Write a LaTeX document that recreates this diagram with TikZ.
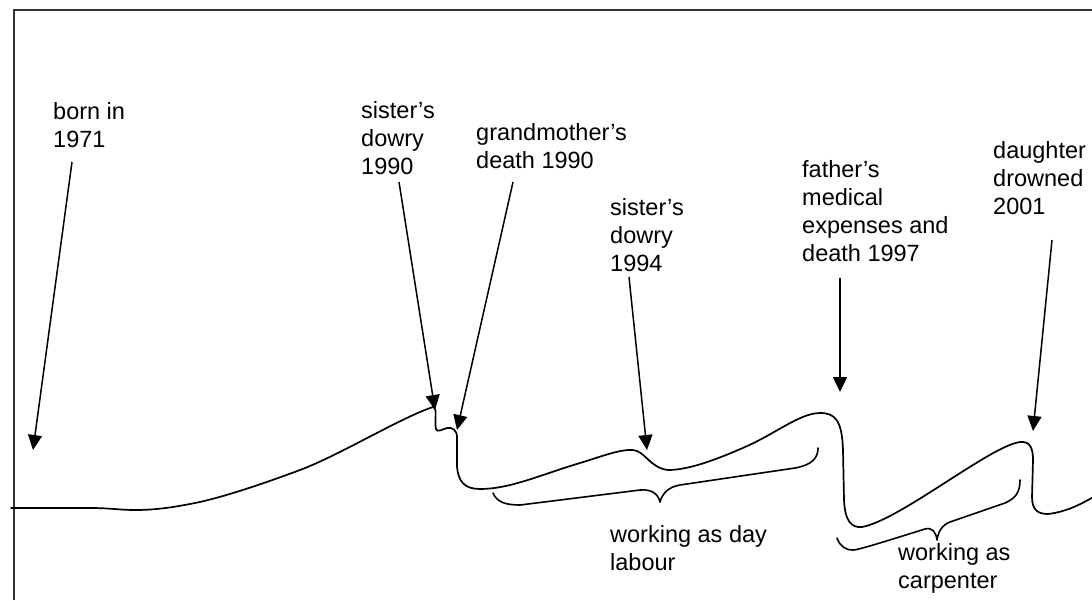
\documentclass[tikz,border=0pt]{standalone}
\usepackage{fontspec}
\setmainfont{Liberation Sans}
\usetikzlibrary{arrows.meta}
\begin{document}
\begin{tikzpicture}[x=1pt,y=-1pt,
  event/.style={anchor=base west, align=left, inner sep=0pt,
                font=\fontsize{23.5}{28.3}\selectfont},
  lifeline/.style={line width=1.7pt, line join=round, line cap=round},
  brace/.style={line width=1.6pt, line join=round, line cap=round},
  pointer/.style={line width=1.5pt, -{Triangle[length=15pt,width=14pt]}},
  frame/.style={line width=2pt, draw=black!80}]
\useasboundingbox (0,0) rectangle (1092,600);

% outer frame (open to the right and below)
\draw[frame] (14,600) -- (14,10) -- (1092,10);

% event labels (placed by the baseline of their last line)
\node[event] (born)     at (53,147.3)  {born in\\1971};
\node[event] (dowry90)  at (361,174.6) {sister’s\\dowry\\1990};
\node[event] (grand)    at (476,168.3) {grandmother’s\\death 1990};
\node[event] (dowry94)  at (610,271.6) {sister’s\\dowry\\1994};
\node[event] (father)   at (802,261.9) {father’s\\medical\\expenses and\\death 1997};
\node[event] (daughter) at (993,214.6) {daughter\\drowned\\2001};
\node[event] (daylab)   at (610,570.3) {working as day\\labour};
\node[event] (carp)     at (898,588.3) {working as\\carpenter};

% arrow tails and tips
\coordinate (bornT)  at (72,162);   \coordinate (bornH)  at (33,450);
\coordinate (d90T)   at (399,182);  \coordinate (d90H)   at (435,410);
\coordinate (grT)    at (513,182);  \coordinate (grH)    at (457,430);
\coordinate (d94T)   at (629,277);  \coordinate (d94H)   at (647,450);
\coordinate (faT)    at (840,278);  \coordinate (faH)    at (840,392);
\coordinate (daT)    at (1052,240); \coordinate (daH)    at (1033,431);

% life line
\draw[lifeline] (11,508) -- (90,508)
  .. controls (110,508) and (120,510) .. (135,510)
  .. controls (160,510) and (180,506) .. (200,502)
  .. controls (230,495) and (265,483) .. (300,470)
  .. controls (340,455) and (400,418) .. (433,407)
  .. controls (438,409) and (434,420) .. (436,429)
  .. controls (437,433) and (443,429) .. (447,428)
  .. controls (452,427) and (457,430) .. (457,437)
  -- (457,466)
  .. controls (458,482) and (465,489) .. (480,489)
  .. controls (510,489) and (540,475) .. (580,463)
  .. controls (600,457) and (620,449) .. (633,450)
  .. controls (645,451) and (650,468) .. (668,470)
  .. controls (690,470) and (720,458) .. (745,447)
  .. controls (775,434) and (800,413) .. (820,413)
  .. controls (835,413) and (842,420) .. (843,450)
  -- (844,500)
  .. controls (845,522) and (852,528) .. (862,527)
  .. controls (900,520) and (990,446) .. (1020,442)
  .. controls (1030,441) and (1033,448) .. (1033,460)
  -- (1032,497)
  .. controls (1032,510) and (1038,514) .. (1048,514)
  .. controls (1065,512) and (1080,505) .. (1095,496);

% braces for the working periods
\draw[brace] (493,493) .. controls (497,502) and (505,505) .. (520,505)
  -- (640,490) .. controls (652,489) and (658,494) .. (660,502)
  .. controls (662,494) and (668,487) .. (680,485)
  -- (795,468) .. controls (812,465) and (818,458) .. (818,448);
\draw[brace] (837,538) .. controls (840,546) and (845,550) .. (853,550)
  .. controls (858,550) and (880,543) .. (925,529)
  .. controls (932,527) and (936,532) .. (937,540)
  .. controls (938,532) and (942,525) .. (950,522)
  -- (1005,503) .. controls (1016,498) and (1020,492) .. (1020,480);

% pointers to the events
\draw[pointer] (bornT) -- (bornH);
\draw[pointer] (d90T) -- (d90H);
\draw[pointer] (grT) -- (grH);
\draw[pointer] (d94T) -- (d94H);
\draw[pointer] (faT) -- (faH);
\draw[pointer] (daT) -- (daH);
\end{tikzpicture}
\end{document}
